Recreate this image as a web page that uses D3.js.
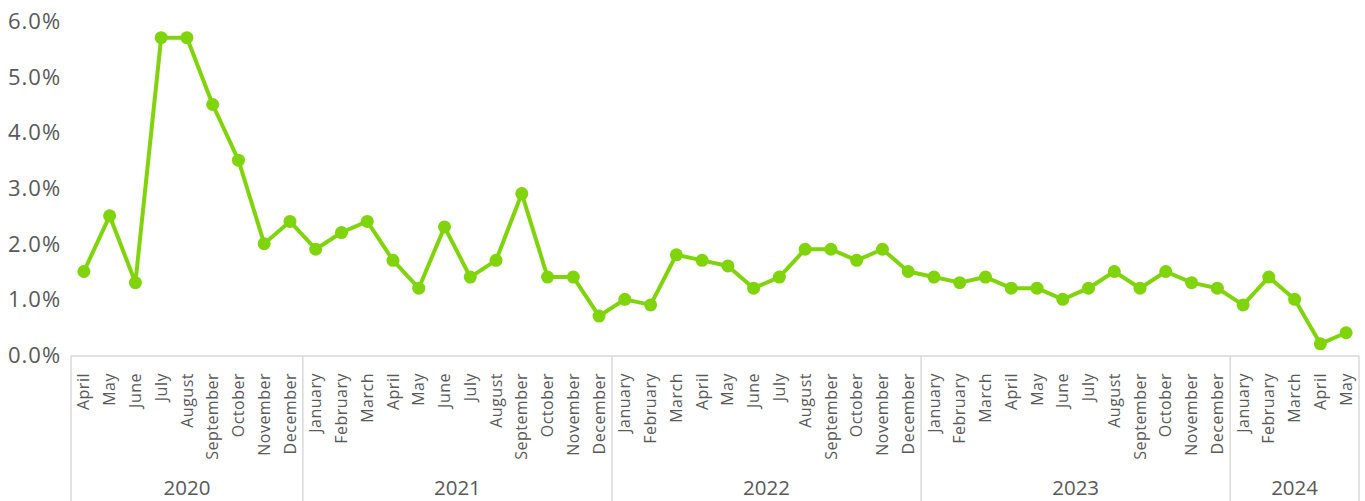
<!DOCTYPE html>
<html>
<head>
<meta charset="utf-8">
<script src="https://cdn.jsdelivr.net/npm/d3@7"></script>
<style>
  html, body { margin: 0; padding: 0; background: #fff; }
  svg text { font-family: "Open Sans", "Noto Sans", sans-serif; fill: #595959; }
</style>
</head>
<body>
<svg id="chart" width="1365" height="501"></svg>
<script>
// Monthly rate, April 2020 – May 2024 (percent)
const years = ["2020", "2021", "2022", "2023", "2024"];
const monthsPerYear = [
  ["April","May","June","July","August","September","October","November","December"],
  ["January","February","March","April","May","June","July","August","September","October","November","December"],
  ["January","February","March","April","May","June","July","August","September","October","November","December"],
  ["January","February","March","April","May","June","July","August","September","October","November","December"],
  ["January","February","March","April","May"]
];
const values2020 = [1.5, 2.5, 1.3, 5.7, 5.7, 4.5, 3.5, 2.0, 2.4];
const values2021 = [1.9, 2.2, 2.4, 1.7, 1.2, 2.3, 1.4, 1.7, 2.9, 1.4, 1.4, 0.7];
const values2022 = [1.0, 0.9, 1.8, 1.7, 1.6, 1.2, 1.4, 1.9, 1.9, 1.7, 1.9, 1.5];
const values2023 = [1.4, 1.3, 1.4, 1.2, 1.2, 1.0, 1.2, 1.5, 1.2, 1.5, 1.3, 1.2];
const values2024 = [0.9, 1.4, 1.0, 0.2, 0.4];
const yTicks = [0, 1, 2, 3, 4, 5, 6];

const seriesByYear = [values2020, values2021, values2022, values2023, values2024];
const points = [];
seriesByYear.forEach((vals, yi) => {
  vals.forEach((v, mi) => {
    points.push({ key: years[yi] + "-" + mi, year: years[yi], month: monthsPerYear[yi][mi], value: v });
  });
});

const svg = d3.select("#chart");
const lineColor = "#80d40c";
const axisColor = "#d9d9d9";

const plotLeft = 71, plotRight = 1359, plotTop = 21, plotBottom = 355;

const x = d3.scaleBand()
  .domain(points.map(d => d.key))
  .range([plotLeft, plotRight])
  .paddingInner(0).paddingOuter(0);

const y = d3.scaleLinear().domain([0, 6]).range([plotBottom, plotTop]);

// y-axis labels (left-aligned, no tick lines)
svg.append("g")
  .selectAll("text")
  .data(yTicks)
  .join("text")
  .attr("x", 8)
  .attr("y", d => y(d))
  .attr("dy", "0.36em")
  .attr("font-size", 22)
  .attr("letter-spacing", 1)
  .text(d => d3.format(".1f")(d) + "%");

// category axis: baseline and year separators
const axisG = svg.append("g");
axisG.append("line")
  .attr("x1", plotLeft).attr("x2", plotRight)
  .attr("y1", plotBottom + 1).attr("y2", plotBottom + 1)
  .attr("stroke", axisColor).attr("stroke-width", 1.5);

let idx = 0;
const groups = years.map((yr, yi) => {
  const first = points[idx].key;
  const last = points[idx + monthsPerYear[yi].length - 1].key;
  idx += monthsPerYear[yi].length;
  return { year: yr, x0: x(first), x1: x(last) + x.bandwidth() };
});

const bounds = [groups[0].x0].concat(groups.map(g => g.x1));
axisG.selectAll("line.sep")
  .data(bounds)
  .join("line")
  .attr("class", "sep")
  .attr("x1", d => d).attr("x2", d => d)
  .attr("y1", plotBottom + 1).attr("y2", 501)
  .attr("stroke", axisColor).attr("stroke-width", 1.5);

// month labels, rotated
axisG.selectAll("text.month")
  .data(points)
  .join("text")
  .attr("class", "month")
  .attr("font-size", 16)
  .attr("letter-spacing", 0.5)
  .attr("text-anchor", "end")
  .attr("dy", "0.35em")
  .attr("transform", d => `translate(${x(d.key) + x.bandwidth() / 2},373) rotate(-90)`)
  .text(d => d.month);

// year labels
axisG.selectAll("text.year")
  .data(groups)
  .join("text")
  .attr("class", "year")
  .attr("font-size", 20.5)
  .attr("text-anchor", "middle")
  .attr("x", d => (d.x0 + d.x1) / 2)
  .attr("y", 495)
  .text(d => d.year);

// series line and markers
const line = d3.line()
  .x(d => x(d.key) + x.bandwidth() / 2)
  .y(d => y(d.value));

svg.append("path")
  .datum(points)
  .attr("d", line)
  .attr("fill", "none")
  .attr("stroke", lineColor)
  .attr("stroke-width", 4)
  .attr("stroke-linejoin", "round");

svg.append("g")
  .selectAll("circle")
  .data(points)
  .join("circle")
  .attr("cx", d => x(d.key) + x.bandwidth() / 2)
  .attr("cy", d => y(d.value))
  .attr("r", 6.5)
  .attr("fill", lineColor);
</script>
</body>
</html>
